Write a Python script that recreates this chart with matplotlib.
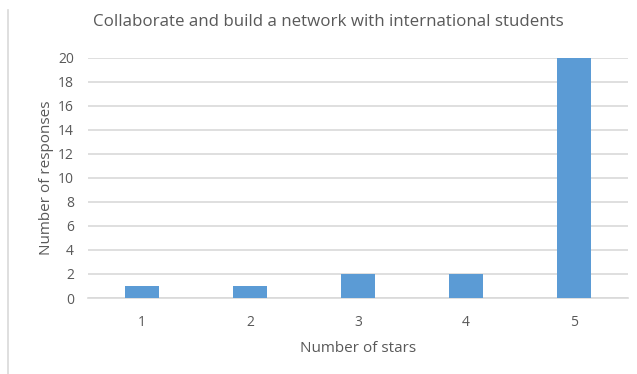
import matplotlib
matplotlib.use("Agg")
import matplotlib.pyplot as plt
from matplotlib.lines import Line2D

# data
stars = ["1", "2", "3", "4", "5"]
responses = [1, 1, 2, 2, 20]
yticks = list(range(0, 21, 2))

plt.rcParams['font.family'] = ['Open Sans', 'DejaVu Sans']
txt = '#595959'
grid = '#D9D9D9'

fig = plt.figure(figsize=(6.37, 3.74), dpi=100)
ax = fig.add_axes([88/637, 1-298/374, 540/637, (298-57.5)/374])

x = range(len(stars))
ax.bar(x, responses, width=0.315, color='#5B9BD5', zorder=3)
ax.set_xlim(-0.5, len(stars)-0.5)
ax.set_ylim(0, 20)
ax.set_xticks(list(x))
ax.set_xticklabels(stars)
ax.set_yticks(yticks)
ax.yaxis.grid(True, color=grid, linewidth=1.2, zorder=0)
for s in ['top', 'right', 'left']:
    ax.spines[s].set_visible(False)
ax.spines['bottom'].set_color(grid)
ax.spines['bottom'].set_linewidth(1.2)
ax.tick_params(length=0, colors=txt, labelsize=10)
ax.tick_params(axis='x', pad=12)
ax.tick_params(axis='y', pad=10)

ax.set_xlabel("Number of stars", fontsize=11, color=txt, labelpad=8)
ax.set_ylabel("Number of responses", fontsize=11, color=txt, labelpad=3)
fig.text(328/637, 1-22/374, "Collaborate and build a network with international students",
         ha='center', va='center', fontsize=12.2, color=txt)

# chart area edge on the left
fig.add_artist(Line2D([8/637, 8/637], [0, 1-10/374], transform=fig.transFigure,
                      color=grid, linewidth=1.2))

fig.savefig("out.png", dpi=100)
